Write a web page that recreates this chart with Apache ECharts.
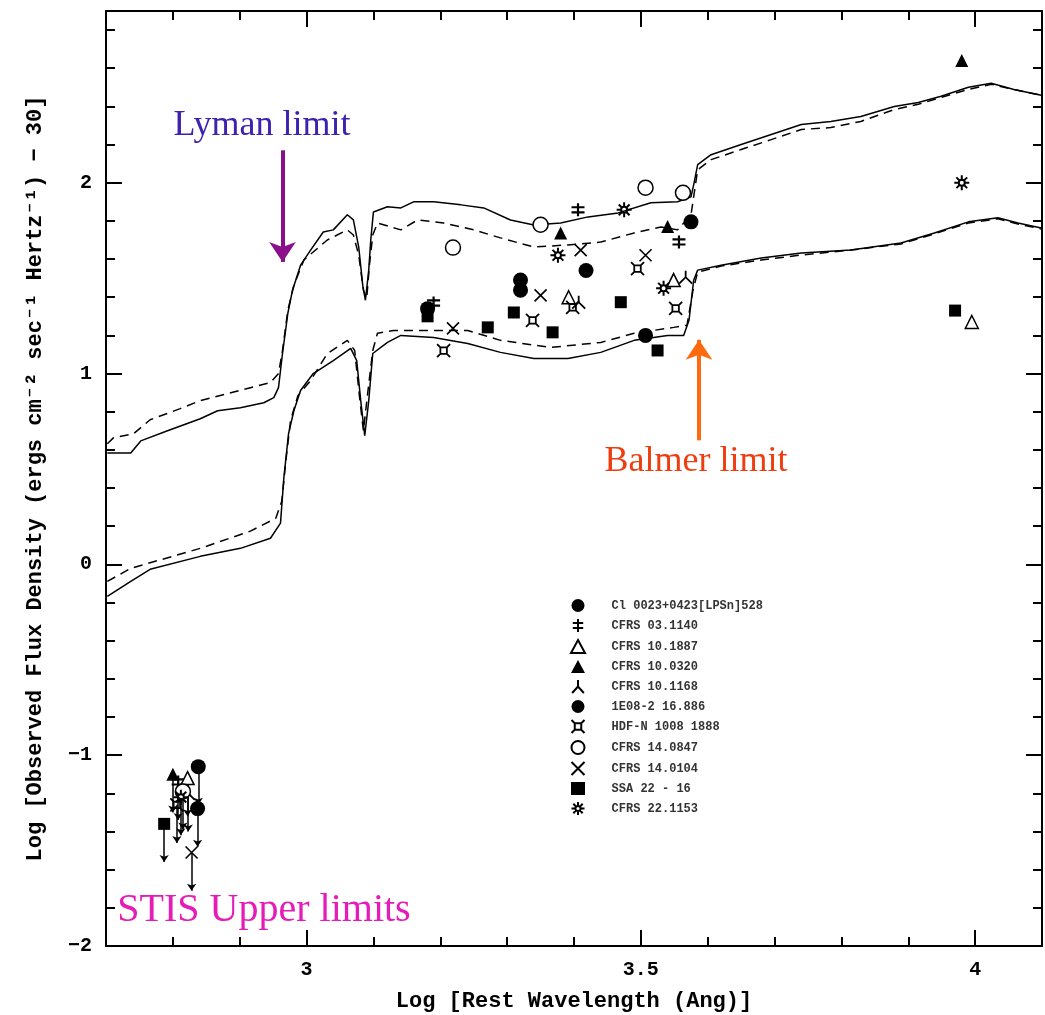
<!DOCTYPE html>
<html>
<head>
<meta charset="utf-8">
<script src="https://cdn.jsdelivr.net/npm/echarts@6/dist/echarts.min.js"></script>
<style>
  html, body { margin: 0; padding: 0; background: #fff; }
  #chart { width: 1045px; height: 1015px; }
</style>
</head>
<body>
<div id="chart"></div>
<script>
// model spectra: [log rest wavelength, log flux density]
const upperSolid = [[2.702,0.584],[2.737,0.584],[2.752,0.647],[2.792,0.700],[2.841,0.763],[2.867,0.805],[2.901,0.821],[2.936,0.847],[2.951,0.874],[2.958,0.926],[2.964,1.105],[2.972,1.316],[2.979,1.437],[2.991,1.568],[3.006,1.647],[3.025,1.742],[3.040,1.753],[3.061,1.832],[3.070,1.805],[3.078,1.663],[3.084,1.463],[3.088,1.384],[3.093,1.542],[3.096,1.700],[3.100,1.847],[3.121,1.874],[3.141,1.868],[3.160,1.900],[3.190,1.900],[3.231,1.884],[3.265,1.868],[3.305,1.805],[3.340,1.779],[3.380,1.789],[3.421,1.821],[3.466,1.842],[3.515,1.895],[3.555,1.900],[3.575,1.926],[3.579,1.989],[3.585,2.095],[3.605,2.147],[3.650,2.200],[3.695,2.253],[3.740,2.305],[3.784,2.321],[3.829,2.347],[3.879,2.400],[3.915,2.421],[3.949,2.453],[3.990,2.500],[4.024,2.521],[4.058,2.489],[4.099,2.458]];
const upperDashed = [[2.702,0.632],[2.711,0.663],[2.741,0.684],[2.766,0.758],[2.811,0.816],[2.841,0.858],[2.882,0.895],[2.916,0.926],[2.946,0.953],[2.958,1.000],[2.964,1.121],[2.972,1.332],[2.981,1.463],[2.996,1.595],[3.031,1.700],[3.061,1.753],[3.070,1.726],[3.078,1.621],[3.085,1.437],[3.090,1.395],[3.094,1.568],[3.099,1.726],[3.106,1.789],[3.141,1.753],[3.166,1.805],[3.205,1.789],[3.250,1.753],[3.290,1.711],[3.340,1.663],[3.391,1.674],[3.440,1.689],[3.490,1.737],[3.530,1.768],[3.555,1.753],[3.575,1.832],[3.585,2.068],[3.605,2.121],[3.650,2.174],[3.695,2.226],[3.740,2.279],[3.784,2.289],[3.829,2.321],[3.879,2.384],[3.915,2.411],[3.949,2.447],[3.990,2.489],[4.024,2.516],[4.058,2.489],[4.099,2.458]];
const lowerSolid = [[2.702,-0.168],[2.737,-0.089],[2.766,-0.026],[2.841,0.042],[2.901,0.084],[2.946,0.137],[2.961,0.216],[2.966,0.453],[2.973,0.684],[2.981,0.805],[2.991,0.911],[3.010,1.000],[3.040,1.068],[3.066,1.132],[3.075,1.068],[3.081,0.858],[3.087,0.674],[3.093,0.858],[3.099,1.105],[3.121,1.163],[3.141,1.200],[3.190,1.189],[3.241,1.158],[3.290,1.111],[3.340,1.079],[3.391,1.079],[3.440,1.111],[3.490,1.174],[3.540,1.200],[3.564,1.200],[3.572,1.279],[3.579,1.489],[3.585,1.542],[3.620,1.568],[3.680,1.605],[3.740,1.632],[3.814,1.647],[3.889,1.684],[3.939,1.737],[3.990,1.795],[4.034,1.816],[4.064,1.789],[4.099,1.763]];
const lowerDashed = [[2.702,-0.089],[2.737,-0.021],[2.841,0.084],[2.916,0.174],[2.954,0.242],[2.963,0.332],[2.969,0.542],[2.976,0.753],[2.987,0.884],[3.006,0.963],[3.031,1.105],[3.061,1.174],[3.072,1.121],[3.079,0.884],[3.085,0.700],[3.091,0.884],[3.099,1.121],[3.106,1.211],[3.130,1.226],[3.156,1.226],[3.241,1.226],[3.290,1.174],[3.365,1.137],[3.440,1.163],[3.490,1.211],[3.549,1.242],[3.569,1.253],[3.578,1.437],[3.585,1.532],[3.620,1.563],[3.680,1.595],[3.740,1.621],[3.814,1.647],[3.889,1.679],[3.939,1.732],[3.990,1.789],[4.034,1.811],[4.064,1.784],[4.099,1.758]];

// galaxies, legend order
const galaxyNames = ['Cl 0023+0423[LPSn]528', 'CFRS 03.1140', 'CFRS 10.1887', 'CFRS 10.0320', 'CFRS 10.1168', '1E08-2 16.886', 'HDF-N 1008 1888', 'CFRS 14.0847', 'CFRS 14.0104', 'SSA 22 - 16', 'CFRS 22.1153'];

// photometry for each galaxy
const cl0023 = [[3.575,1.795],[3.418,1.540],[3.507,1.200]];
const cfrs031140 = [[3.406,1.858],[3.190,1.370],[3.557,1.690]];
const cfrs101887 = [[3.392,1.400],[3.549,1.490],[3.995,1.270]];
const cfrs100320 = [[3.380,1.737],[3.540,1.770],[3.980,2.640]];
const cfrs101168 = [[3.407,1.374],[3.567,1.505]];
const e082 = [[3.320,1.490],[3.320,1.437],[3.181,1.340]];
const hdf = [[3.495,1.550],[3.398,1.347],[3.552,1.342],[3.338,1.279],[3.205,1.120]];
const cfrs140847 = [[3.507,1.974],[3.563,1.947],[3.350,1.780],[3.219,1.660]];
const cfrs140104 = [[3.410,1.647],[3.507,1.620],[3.350,1.410],[3.219,1.237]];
const ssa22 = [[3.470,1.374],[3.310,1.320],[3.368,1.216],[3.271,1.242],[3.525,1.121],[3.181,1.300],[3.970,1.330]];
const cfrs221153 = [[3.475,1.858],[3.376,1.620],[3.534,1.447],[3.980,2.000]];
const galaxyPoints = [cl0023, cfrs031140, cfrs101887, cfrs100320, cfrs101168, e082, hdf, cfrs140847, cfrs140104, ssa22, cfrs221153];

// STIS upper limits: [log wavelength, log flux, galaxy index]
const stisLimits = [[2.838,-1.06,0],[2.808,-1.14,1],[2.822,-1.12,2],[2.800,-1.10,3],[2.823,-1.20,4],[2.837,-1.28,5],[2.806,-1.26,6],[2.815,-1.19,7],[2.828,-1.51,8],[2.787,-1.36,9],[2.812,-1.22,10]];

const xMajor = [3, 3.5, 4];
const xMinor = [2.8, 2.9, 3.1, 3.2, 3.3, 3.4, 3.6, 3.7, 3.8, 3.9];
const yMajor = [-2, -1, 0, 1, 2];
const yMinor = [-1.8, -1.6, -1.4, -1.2, -0.8, -0.6, -0.4, -0.2, 0.2, 0.4, 0.6, 0.8, 1.2, 1.4, 1.6, 1.8, 2.2, 2.4, 2.6, 2.8];

const MONO = "'Liberation Mono', 'DejaVu Sans Mono', monospace";
const SERIF = "'Liberation Serif', 'DejaVu Serif', serif";

const SYMBOLS = [
  { symbol: 'circle', size: 15, color: '#000', border: 0 },
  { symbol: 'path://M5,0L5,10M1,3L9,3M1,7L9,7', size: 13, color: 'transparent', border: 2.2 },
  { symbol: 'triangle', size: 13, color: '#fff', border: 1.5 },
  { symbol: 'triangle', size: 13, color: '#000', border: 0 },
  { symbol: 'path://M5,0L5,5M0.5,10L5,5L9.5,10', size: 13, color: 'transparent', border: 1.8 },
  { symbol: 'circle', size: 15, color: '#000', border: 0 },
  { symbol: 'path://M2.5,2.5L7.5,2.5L7.5,7.5L2.5,7.5ZM0,0L2.5,2.5M10,0L7.5,2.5M0,10L2.5,7.5M10,10L7.5,7.5', size: 13, color: 'transparent', border: 1.8 },
  { symbol: 'circle', size: 15, color: '#fff', border: 1.5 },
  { symbol: 'path://M0,0L10,10M10,0L0,10', size: 12, color: 'transparent', border: 1.6 },
  { symbol: 'rect', size: 12, color: '#000', border: 0 },
  { symbol: 'path://M7,5A2,2 0 1 1 3,5A2,2 0 1 1 7,5ZM5,0L5,3M5,7L5,10M0,5L3,5M7,5L10,5M1.4,1.4L3.6,3.6M8.6,1.4L6.4,3.6M1.4,8.6L3.6,6.4M8.6,8.6L6.4,6.4', size: 15, color: 'transparent', border: 2 }
];

const chart = echarts.init(document.getElementById('chart'), null, { renderer: 'canvas' });

const tickStyle = { color: '#000', width: 2 };

function xAxisDef(position, values, len, withLabels, withLine) {
  return {
    type: 'value', position, min: 2.7, max: 4.1,
    axisLine: { show: withLine, onZero: false, lineStyle: { color: '#000', width: 2 } },
    axisTick: { show: true, inside: true, length: len, customValues: values, lineStyle: tickStyle },
    axisLabel: withLabels ? {
      show: true, customValues: xMajor, margin: 14,
      fontFamily: MONO, fontWeight: 'bold', fontSize: 20, color: '#000',
      formatter: v => String(v)
    } : { show: false },
    splitLine: { show: false },
    name: withLabels ? 'Log [Rest Wavelength (Ang)]' : '',
    nameLocation: 'middle', nameGap: 44,
    nameTextStyle: { fontFamily: MONO, fontWeight: 'bold', fontSize: 22, color: '#000' }
  };
}

function yAxisDef(position, values, len, withLabels, withLine) {
  return {
    type: 'value', position, min: -2, max: 2.9,
    axisLine: { show: withLine, onZero: false, lineStyle: { color: '#000', width: 2 } },
    axisTick: { show: true, inside: true, length: len, customValues: values, lineStyle: tickStyle },
    axisLabel: withLabels ? {
      show: true, customValues: yMajor, margin: 14,
      fontFamily: MONO, fontWeight: 'bold', fontSize: 20, color: '#000',
      formatter: v => (v < 0 ? '\u2212' + Math.abs(v) : String(v))
    } : { show: false },
    splitLine: { show: false },
    name: withLabels ? 'Log [Observed Flux Density (ergs cm\u207B\u00B2 sec\u207B\u00B9 Hertz\u207B\u00B9) \u2212 30]' : '',
    nameLocation: 'middle', nameGap: 60, nameRotate: 90,
    nameTextStyle: { fontFamily: MONO, fontWeight: 'bold', fontSize: 22, color: '#000' }
  };
}

const curveSeries = [
  [upperSolid, 'solid'], [upperDashed, [9, 6]], [lowerSolid, 'solid'], [lowerDashed, [9, 6]]
].map(([data, type]) => ({
  type: 'line', data, showSymbol: false, silent: true, z: 2,
  lineStyle: { color: '#000', width: 1.5, type }
}));

const galaxySeries = galaxyNames.map((name, i) => {
  const s = SYMBOLS[i];
  const limits = stisLimits.filter(p => p[2] === i).map(p => [p[0], p[1]]);
  return {
    name, type: 'scatter', z: 5,
    data: galaxyPoints[i].concat(limits),
    symbol: s.symbol, symbolSize: s.size,
    itemStyle: { color: s.color, borderColor: '#000', borderWidth: s.border, opacity: 1 }
  };
});

const limitArrows = {
  type: 'lines', coordinateSystem: 'cartesian2d', z: 4, silent: true,
  symbol: ['none', 'arrow'], symbolSize: 7,
  lineStyle: { color: '#000', width: 1.5, opacity: 1 },
  data: stisLimits.map(p => ({ coords: [[p[0], p[1]], [p[0], p[1] - 0.2]] }))
};

const lymanArrow = [[2.964, 2.17], [2.964, 1.585]];
const balmerArrow = [[3.587, 0.65], [3.587, 1.177]];

const limitMarkers = [
  { coords: lymanArrow, color: '#8a0f8a' },
  { coords: balmerArrow, color: '#ff6a10' }
].map(a => ({
  type: 'lines', coordinateSystem: 'cartesian2d', z: 6, silent: true,
  symbol: ['none', 'arrow'], symbolSize: 20,
  lineStyle: { color: a.color, width: 4, opacity: 1 },
  data: [{ coords: a.coords }]
}));

chart.setOption({
  animation: false,
  backgroundColor: '#fff',
  grid: { left: 106, right: 3, top: 11, bottom: 69, show: false, containLabel: false, outerBoundsMode: 'none' },
  xAxis: [
    xAxisDef('bottom', xMinor, 9, true, true),
    xAxisDef('bottom', xMajor, 16, false, false),
    xAxisDef('top', xMinor, 9, false, true),
    xAxisDef('top', xMajor, 16, false, false)
  ],
  yAxis: [
    yAxisDef('left', yMinor, 9, true, true),
    yAxisDef('left', yMajor, 16, false, false),
    yAxisDef('right', yMinor, 9, false, true),
    yAxisDef('right', yMajor, 16, false, false)
  ],
  legend: {
    data: galaxyNames, orient: 'vertical', left: 565, top: 594,
    itemWidth: 14, itemHeight: 13, itemGap: 6, selectedMode: false,
    formatter: n => '   ' + n,
    textStyle: { fontFamily: MONO, fontWeight: 'bold', fontSize: 12, color: '#333', lineHeight: 13 }
  },
  graphic: [
    { type: 'text', style: { x: 262, y: 126, text: 'Lyman limit', fill: '#3d22b0', font: '36px ' + SERIF, textAlign: 'center', textVerticalAlign: 'middle' } },
    { type: 'text', style: { x: 696, y: 462, text: 'Balmer limit', fill: '#ef3d10', font: '36px ' + SERIF, textAlign: 'center', textVerticalAlign: 'middle' } },
    { type: 'text', style: { x: 264, y: 910, text: 'STIS Upper limits', fill: '#e51cb8', font: '40px ' + SERIF, textAlign: 'center', textVerticalAlign: 'middle' } }
  ],
  series: curveSeries.concat([limitArrows], galaxySeries, limitMarkers)
});
</script>
</body>
</html>
